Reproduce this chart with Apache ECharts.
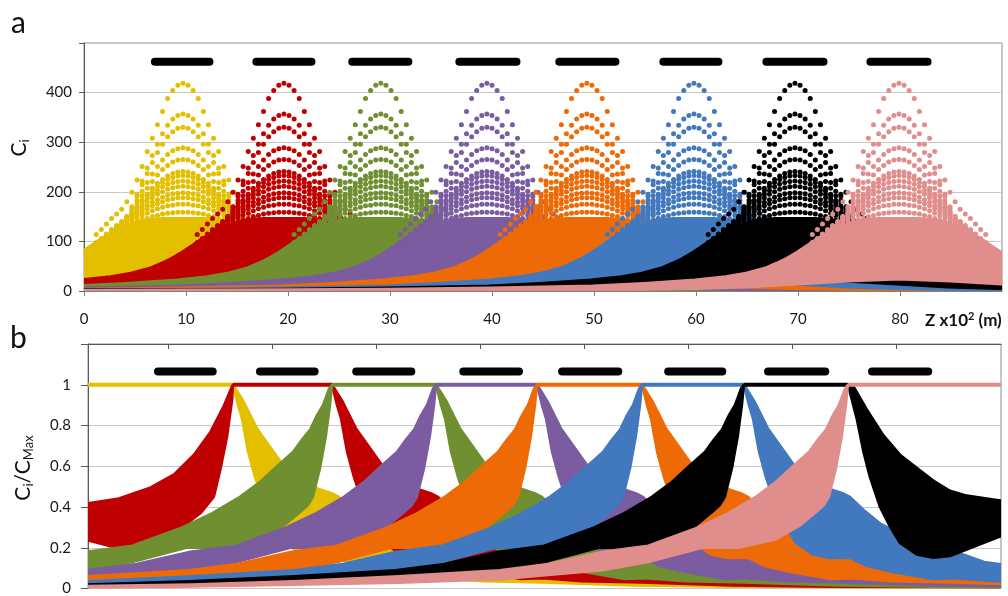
<!DOCTYPE html>
<html>
<head>
<meta charset="utf-8">
<script src="https://cdn.jsdelivr.net/npm/echarts@6/dist/echarts.min.js"></script>
<style>html,body{margin:0;padding:0;background:#fff}#c{width:1008px;height:596px}</style>
</head>
<body>
<div id="c"></div>
<script>
// ---------- shared ----------
const colors = ['#E3BF00', '#C00000', '#6F8F31', '#7B5CA0', '#EE6A06', '#4279BE', '#000000', '#E08E8C'];

// ---------- panel a ----------
const xTicksA = [0, 10, 20, 30, 40, 50, 60, 70, 80];
const yTicksA = [0, 100, 200, 300, 400];
const peakCentersA = [9.7, 19.6, 29.1, 39.5, 49.3, 59.8, 69.7, 79.9];
// solid part of each cloud, as offset from its peak centre
const fillOffsetsA = [-90, -80, -70, -60, -50, -40, -30, -25, -20, -17, -15, -13, -12, -11, -10, -9, -8, -7, -6, -5, -4, -2, 0,
  2, 4, 5, 6, 7, 8, 9, 10, 11, 12, 13, 15, 17, 20, 25, 30, 40, 50, 60, 70, 80, 90];
const fillTopA = [1, 1.2, 1.8, 2.5, 3.5, 6, 10, 15, 22, 29, 36, 47, 56, 66, 78, 92, 106, 118, 128, 135, 142, 146, 146,
  146, 142, 135, 128, 118, 106, 92, 78, 66, 56, 47, 36, 29, 22, 15, 10, 6, 3.5, 2.5, 1.8, 1.2, 1];
const fillBottomOffsetsA = [-90, -60, -40, -30, -20, -15, -10, -5, 0, 5, 10, 15, 20, 30, 40, 60, 90];
const fillBottomA = [0.3, 0.5, 1, 2, 5, 8, 14, 20, 24, 20, 14, 8, 5, 2, 1, 0.5, 0.3];
// dotted arcs above the solid part (half profiles, mirrored about the peak)
const arcOffsetsA = [0, 0.5, 1, 1.5, 2, 2.5, 3, 3.5, 4, 4.5, 5, 5.5, 6, 6.5, 7, 7.5, 8, 8.5];
const arcProfilesA = [
  [419, 415, 404, 388, 362, 335, 308, 281, 251, 224, 199, 180, 165, 155, 146, 135, 124, 114],
  [357, 354, 347, 334, 317, 296, 273, 248, 222, 195, 170, 150, 140, 132, 124, 115, 106, 98],
  [330, 328, 321, 311, 296, 279, 259, 237, 214, 191, 168, 150, 138, 130, 122, 113, 104, 96],
  [289, 287, 283, 275, 264, 251, 236, 219, 201, 183, 164, 148, 136, 128, 120, 111, 102, 94],
  [265, 264, 260, 253, 245, 234, 221, 207, 192, 177, 161, 146, 135, 127, 119, 110, 101, 93],
  [241, 240, 237, 232, 225, 217, 207, 195, 183, 170, 157, 143, 134, 126, 118, 109, 100, 92],
  [233, 232, 229, 225, 219, 211, 202, 192, 181, 169, 156, 144, 133, 125, 117, 108, 99, 91],
  [222, 221, 219, 215, 210, 203, 195, 186, 176, 166, 155, 144, 133, 125, 117, 108, 99, 91],
  [211, 210, 208, 205, 200, 195, 188, 180, 171, 162, 152, 142, 132, 124, 116, 107, 98, 90],
  [198, 197, 196, 193, 189, 184, 179, 172, 165, 157, 149, 140, 131, 123, 115, 106, 97, 89],
  [188, 188, 186, 184, 180, 176, 172, 166, 160, 153, 146, 138, 130, 122, 114, 105, 96, 88],
  [175, 175, 173, 172, 169, 166, 162, 157, 152, 147, 141, 135, 128, 121, 113, 104, 95, 87],
  [159, 159, 158, 157, 155, 152, 150, 146, 143, 139, 134, 130, 125, 119, 111, 103, 94, 86]
];
const barsA = [[6.95, 12.3], [16.9, 22.3], [26.3, 31.8], [36.8, 42.4], [46.6, 52.1], [56.8, 62.2], [66.9, 72.5], [77.1, 82.7]];
const barLevelA = 462;

// ---------- panel b ----------
const xTicksB = [10, 20, 30, 40, 50, 60, 70, 80];
const yTicksB = [0, 0.2, 0.4, 0.6, 0.8, 1];
const yLabelsB = ['0', '0.2', '0.4', '0.6', '0.8', '1'];
const xMinB = 2.31, xMaxB = 90.1;
const segStartsB = [2.31, 16.25, 25.77, 35.77, 45.48, 55.58, 65.38, 75.38];
const segEndsB = [16.25, 25.77, 35.77, 45.48, 55.58, 65.38, 75.38, 90.1];
// fan shapes as [offset from the segment edge, Ci/CMax]
const fanUpperLeftB = [[-74, 0.012], [-63.1, 0.02], [-53.3, 0.035], [-43.2, 0.06], [-33.5, 0.09], [-28.8, 0.12], [-23.6, 0.18],
  [-19.2, 0.21], [-14.4, 0.30], [-11.5, 0.37], [-8.85, 0.45], [-7.0, 0.52], [-5.5, 0.59], [-3.75, 0.67], [-2.9, 0.73],
  [-2.1, 0.78], [-1.45, 0.85], [-0.87, 0.90], [-0.29, 0.98], [0, 1]];
const fanLowerLeftB = [[-74, 0], [-63.1, 0.01], [-53.3, 0.018], [-43.2, 0.028], [-33.5, 0.045], [-23.6, 0.09], [-19.2, 0.13],
  [-14.0, 0.2], [-10.5, 0.2], [-7.0, 0.24], [-4.6, 0.31], [-3.17, 0.37], [-2.3, 0.41], [-1.83, 0.45], [-1.15, 0.59],
  [-0.58, 0.75], [-0.19, 0.9], [0, 1]];
const fanUpperRightB = [[0, 1], [0.29, 0.978], [1.06, 0.914], [2.31, 0.786], [3.65, 0.69], [4.9, 0.60], [6.54, 0.54],
  [8.17, 0.49], [9.62, 0.465], [10.19, 0.45], [11.54, 0.384], [13.08, 0.32], [15.38, 0.26], [17.8, 0.21], [19.7, 0.19],
  [20.4, 0.18], [23.1, 0.13], [26.9, 0.105], [29.8, 0.095], [30.8, 0.085], [34.6, 0.06], [39.4, 0.05], [40.4, 0.045],
  [46.2, 0.03], [50, 0.028], [57.7, 0.02], [67.3, 0.012], [76.9, 0.01], [90, 0.008]];
const fanLowerRightB = [[0, 1], [0.48, 0.9], [0.87, 0.834], [1.44, 0.673], [2.12, 0.545], [3.08, 0.40], [4.04, 0.304],
  [5.0, 0.223], [6.63, 0.167], [8.17, 0.151], [9.62, 0.15], [10.19, 0.15], [11.83, 0.11], [14.42, 0.08], [18.17, 0.047],
  [20.2, 0.05], [24.0, 0.035], [29.8, 0.03], [38.5, 0.015], [48.1, 0.008], [76.9, 0.002], [90, 0]];
// fans touching the plot edges (read separately, absolute positions)
const redLeftUpperB = [[2.0, 0.416], [5.13, 0.44], [8.34, 0.496], [10.58, 0.56], [12.5, 0.657], [14.1, 0.77], [15.38, 0.898], [16.18, 0.995], [16.25, 1]];
const redLeftLowerB = [[2.0, 0.24], [5.77, 0.19], [8.34, 0.22], [11.63, 0.31], [13.14, 0.37], [14.42, 0.45], [15.07, 0.59], [15.7, 0.75], [16.18, 0.93], [16.25, 1]];
const blackRightUpperB = [[75.38, 1], [75.89, 0.995], [77.18, 0.88], [78.78, 0.753], [80.38, 0.657], [81.99, 0.593], [83.59, 0.53], [85.19, 0.48], [86.8, 0.456], [90.0, 0.432], [90.5, 0.43]];
const blackRightLowerB = [[75.38, 1], [76.22, 0.834], [76.86, 0.673], [77.5, 0.545], [78.46, 0.40], [79.42, 0.304], [80.38, 0.223], [81.99, 0.167], [83.59, 0.151], [85.19, 0.159], [86.8, 0.191], [88.39, 0.223], [90.0, 0.255], [90.5, 0.26]];
const barsB = [[9.04, 14.3], [18.85, 24.1], [28.1, 33.4], [38.4, 43.75], [47.9, 53.3], [58.1, 63.3], [67.7, 73.2], [77.7, 83.1]];
const barLevelB = 1.065;

// ---------- helpers ----------
const FONT = 'Lato, "Liberation Sans", sans-serif';
let zOrder = 10;
function polygonSeries(points, color, gi, strokeW) {
  return {
    type: 'custom', xAxisIndex: gi, yAxisIndex: gi, clip: true, silent: true, data: points, z: zOrder++,
    renderItem: function (params, api) {
      if (params.dataIndexInside !== 0) return null;
      return {
        type: 'polygon',
        shape: { points: points.map(p => api.coord(p)) },
        style: { fill: color, stroke: color, lineWidth: strokeW, lineJoin: 'round' }
      };
    }
  };
}
function segmentSeries(segs, level, color, gi, width, cap) {
  return {
    type: 'custom', xAxisIndex: gi, yAxisIndex: gi, clip: false, silent: true, data: segs, z: zOrder++,
    renderItem: function (params, api) {
      const p1 = api.coord([api.value(0), level]);
      const p2 = api.coord([api.value(1), level]);
      return { type: 'line', shape: { x1: p1[0], y1: p1[1], x2: p2[0], y2: p2[1] },
        style: { stroke: color, lineWidth: width, lineCap: cap } };
    }
  };
}
function shift(arr, base) { return arr.map(p => [base + p[0], p[1]]); }

const series = [];
// panel a clouds
peakCentersA.forEach((cx, c) => {
  const top = fillOffsetsA.map((o, i) => [cx + o, fillTopA[i]]);
  const bot = fillBottomOffsetsA.map((o, i) => [cx + o, fillBottomA[i]]).reverse();
  series.push(polygonSeries(top.concat(bot), colors[c], 0, 3));
  const dots = [];
  arcProfilesA.forEach(prof => {
    arcOffsetsA.forEach((o, i) => {
      dots.push([cx + o, prof[i]]);
      if (o !== 0) dots.push([cx - o, prof[i]]);
    });
  });
  series.push({ type: 'scatter', xAxisIndex: 0, yAxisIndex: 0, data: dots, symbol: 'circle', symbolSize: 5, z: zOrder++,
    itemStyle: { color: colors[c], opacity: 1 }, silent: true, clip: true, progressive: 0, large: false });
});
series.push(segmentSeries(barsA, barLevelA, '#000', 0, 8, 'round'));

// panel b
for (let c = 0; c < colors.length; c++) {
  if (c > 0) {
    const up = c === 1 ? redLeftUpperB : shift(fanUpperLeftB, segStartsB[c]);
    const lo = c === 1 ? redLeftLowerB : shift(fanLowerLeftB, segStartsB[c]);
    series.push(polygonSeries(up.concat(lo.slice().reverse()), colors[c], 1, 2.5));
  }
  if (c < colors.length - 1) {
    const up = c === 6 ? blackRightUpperB : shift(fanUpperRightB, segEndsB[c]);
    const lo = c === 6 ? blackRightLowerB : shift(fanLowerRightB, segEndsB[c]);
    series.push(polygonSeries(up.concat(lo.slice().reverse()), colors[c], 1, 2.5));
  }
  series.push(segmentSeries([[segStartsB[c], segEndsB[c]]], 1, colors[c], 1, 4, 'butt'));
}
series.push(segmentSeries(barsB, barLevelB, '#000', 1, 8, 'round'));

const labelStyle = { fontSize: 15, color: '#1a1a1a', fontFamily: FONT };
const option = {
  animation: false,
  backgroundColor: '#ffffff',
  textStyle: { fontFamily: FONT },
  grid: [
    { left: 84, top: 43, width: 918, height: 248, show: true, borderColor: '#8c8c8c', borderWidth: 1, backgroundColor: 'transparent' },
    { left: 88, top: 344, width: 913, height: 249, show: true, borderColor: '#8c8c8c', borderWidth: 1, backgroundColor: 'transparent' }
  ],
  xAxis: [
    { gridIndex: 0, type: 'value', min: 0, max: 90, interval: 10, position: 'bottom',
      axisLine: { show: true, onZero: false, lineStyle: { color: '#7f7f7f' } },
      axisTick: { show: true, inside: false, length: 5, customValues: xTicksA, lineStyle: { color: '#7f7f7f' } },
      axisLabel: Object.assign({ margin: 21, customValues: xTicksA, formatter: v => xTicksA.indexOf(v) >= 0 ? String(v) : '' }, labelStyle),
      splitLine: { show: false } },
    { gridIndex: 1, type: 'value', min: xMinB, max: xMaxB, splitNumber: 9, position: 'top',
      axisLine: { show: true, onZero: false, lineStyle: { color: '#595959' } },
      axisTick: { show: true, inside: true, length: 5, customValues: xTicksB, lineStyle: { color: '#595959' } },
      axisLabel: { show: false },
      splitLine: { show: false } }
  ],
  yAxis: [
    { gridIndex: 0, type: 'value', min: 0, max: 500, interval: 100,
      axisLine: { show: true, lineStyle: { color: '#595959' } },
      axisTick: { show: true, inside: false, length: 5, lineStyle: { color: '#595959' } },
      axisLabel: Object.assign({ margin: 12, customValues: yTicksA, formatter: v => yTicksA.indexOf(v) >= 0 ? String(v) : '' }, labelStyle),
      splitLine: { show: true, lineStyle: { color: '#c8c8c8', width: 1 } } },
    { gridIndex: 1, type: 'value', min: 0, max: 1.2, interval: 0.2,
      axisLine: { show: true, lineStyle: { color: '#595959' } },
      axisTick: { show: true, inside: false, length: 7, lineStyle: { color: '#595959' } },
      axisLabel: Object.assign({ margin: 17, formatter: v => { const i = yTicksB.findIndex(t => Math.abs(t - v) < 1e-6); return i >= 0 ? yLabelsB[i] : ''; } }, labelStyle),
      splitLine: { show: true, lineStyle: { color: '#c8c8c8', width: 1 } } }
  ],
  graphic: [
    { type: 'text', x: 11, y: 23, style: { text: 'a', font: '30px ' + FONT, fill: '#111', verticalAlign: 'middle' } },
    { type: 'text', x: 10, y: 338, style: { text: 'b', font: '30px ' + FONT, fill: '#111', verticalAlign: 'middle' } },
    { type: 'text', x: 19, y: 148, rotation: Math.PI / 2,
      style: { text: '{c|C}{s|i}', align: 'center', verticalAlign: 'middle',
        rich: { c: { fontSize: 21, fontFamily: FONT, fill: '#111', lineHeight: 24 },
                s: { fontSize: 13, fontFamily: FONT, fill: '#111', lineHeight: 10, verticalAlign: 'bottom' } } } },
    { type: 'text', x: 23, y: 468, rotation: Math.PI / 2,
      style: { text: '{c|C}{s|i}{c|/C}{s|Max}', align: 'center', verticalAlign: 'middle',
        rich: { c: { fontSize: 21, fontFamily: FONT, fill: '#111', lineHeight: 24 },
                s: { fontSize: 13, fontFamily: FONT, fill: '#111', lineHeight: 10, verticalAlign: 'bottom' } } } },
    { type: 'text', x: 925, y: 321,
      style: { text: '{b|Z x10}{p|2}{b| (m)}', align: 'left', verticalAlign: 'middle',
        rich: { b: { fontSize: 17, fontWeight: 'bold', fontFamily: FONT, fill: '#111', lineHeight: 20 },
                p: { fontSize: 11, fontWeight: 'bold', fontFamily: FONT, fill: '#111', lineHeight: 9, verticalAlign: 'top' } } } }
  ],
  series: series
};
const chart = echarts.init(document.getElementById('c'), null, { renderer: 'canvas', width: 1008, height: 596 });
chart.setOption(option);
</script>
</body>
</html>
